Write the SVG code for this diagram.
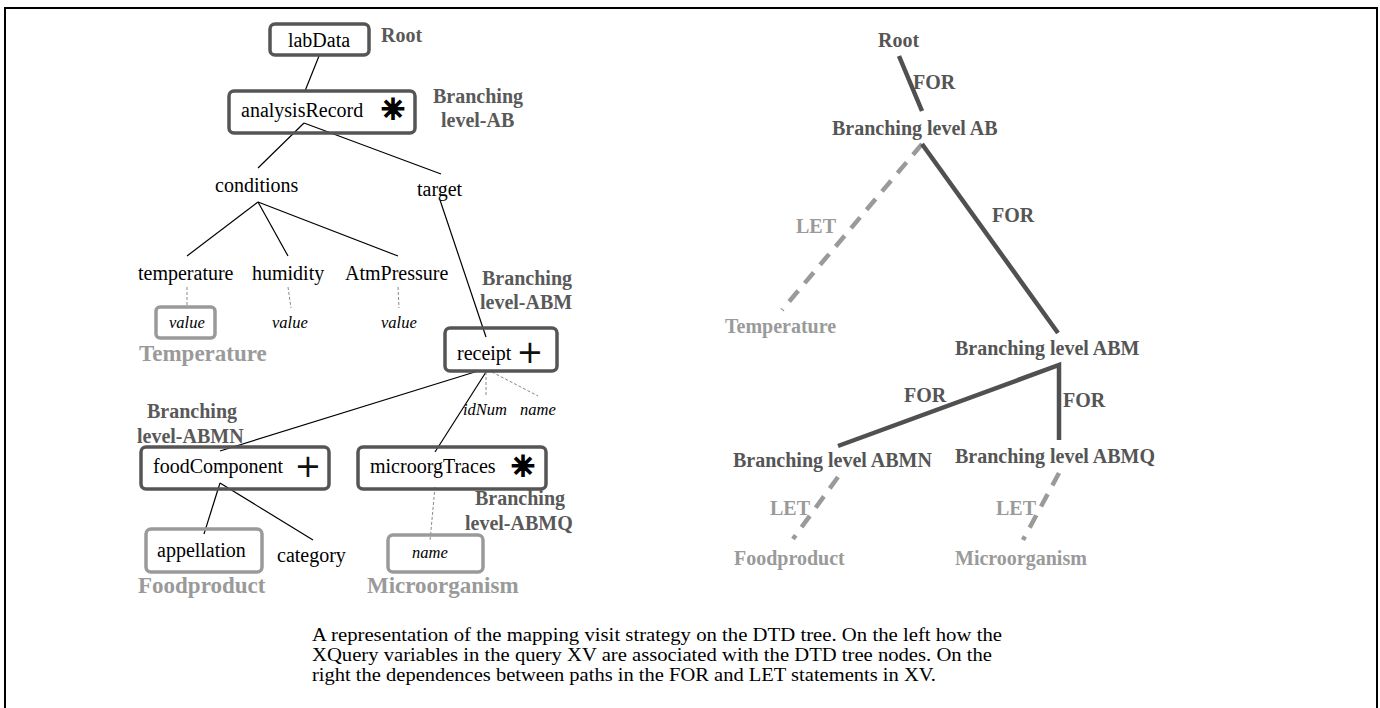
<svg xmlns="http://www.w3.org/2000/svg" width="1380" height="708" viewBox="0 0 1380 708">
<style>
.bg{fill:#fff}
.frame{fill:none;stroke:#000;stroke-width:2}
.box{fill:none;stroke:#555;stroke-width:3.5}
.gbox{fill:none;stroke:#9a9a9a;stroke-width:3.5}
.t{font-family:"Liberation Serif",serif;font-size:20px;fill:#000}
.it{font-family:"Liberation Serif",serif;font-size:16.5px;font-style:italic;fill:#000}
.lab{font-family:"Liberation Serif",serif;font-size:20px;font-weight:bold;fill:#595959}
.glab{font-family:"Liberation Serif",serif;font-size:23px;font-weight:bold;fill:#9a9a9a}
.rlab{font-family:"Liberation Serif",serif;font-size:20px;font-weight:bold;fill:#555}
.rglab{font-family:"Liberation Serif",serif;font-size:20px;font-weight:bold;fill:#9a9a9a}
.sym{font-family:"DejaVu Sans",sans-serif;fill:#111;text-anchor:middle}
.ast{font-family:"DejaVu Sans",sans-serif;fill:#000;stroke:#000;stroke-width:2.2;stroke-linecap:round;text-anchor:middle}
.edge{fill:none;stroke:#000;stroke-width:1.2}
.dedge{fill:none;stroke:#888;stroke-width:1;stroke-dasharray:3 2}
.fe{fill:none;stroke:#505050;stroke-width:4.5}
.le{fill:none;stroke:#9a9a9a;stroke-width:4.5;stroke-dasharray:14 10}
.cap{font-family:"Liberation Serif",serif;font-size:19px;fill:#000}
</style>
<rect class="bg" x="0" y="0" width="1380" height="708"/>
<path class="frame" d="M5,708 V8 H1377 V708"/>

<g id="connectors">
  <line class="edge" x1="319" y1="56" x2="305" y2="91"/>
  <line class="edge" x1="304" y1="123" x2="258" y2="168"/>
  <line class="edge" x1="304" y1="123" x2="441" y2="174"/>
  <line class="edge" x1="258" y1="202" x2="187" y2="256"/>
  <line class="edge" x1="258" y1="202" x2="288" y2="256"/>
  <line class="edge" x1="258" y1="202" x2="398" y2="256"/>
  <line class="edge" x1="440" y1="200" x2="486" y2="337"/>
  <line class="dedge" x1="187" y1="287" x2="187" y2="307"/>
  <line class="dedge" x1="288" y1="287" x2="291" y2="308"/>
  <line class="dedge" x1="398" y1="287" x2="399" y2="308"/>
  <line class="edge" x1="478" y1="371" x2="220" y2="451"/>
  <line class="edge" x1="486" y1="372" x2="435" y2="452"/>
  <line class="dedge" x1="486" y1="372" x2="486" y2="396"/>
  <line class="dedge" x1="492" y1="372" x2="538" y2="396"/>
  <line class="edge" x1="220" y1="483" x2="204" y2="534"/>
  <line class="edge" x1="220" y1="483" x2="313" y2="540"/>
  <line class="dedge" x1="435" y1="487" x2="430" y2="541"/>
  <line class="fe" x1="899" y1="56" x2="922" y2="111"/>
  <line class="le" x1="922" y1="144" x2="782" y2="310"/>
  <line class="fe" x1="922" y1="144" x2="1058" y2="333"/>
  <polyline class="fe" points="838,446 1059,365 1059,440"/>
  <line class="le" x1="838" y1="477" x2="793" y2="539"/>
  <line class="le" x1="1059" y1="473" x2="1023" y2="540"/>
</g>

<g id="edge-labels">
  <text class="rlab" x="913" y="89">FOR</text>
  <text class="rglab" x="796" y="233">LET</text>
  <text class="rlab" x="992" y="222">FOR</text>
  <text class="rlab" x="904" y="402">FOR</text>
  <text class="rlab" x="1063" y="407">FOR</text>
  <text class="rglab" x="770" y="515">LET</text>
  <text class="rglab" x="996" y="515">LET</text>
</g>

<g id="labData">
  <rect class="box" x="270" y="24" width="99" height="31" rx="5"/>
  <text class="t" x="319" y="47" text-anchor="middle">labData</text>
  <text class="lab" x="381" y="42">Root</text>
</g>
<g id="analysisRecord">
  <rect class="box" x="229" y="91" width="186" height="42" rx="5"/>
  <text class="t" x="241" y="117">analysisRecord</text>
  <text class="ast" x="393" y="119" font-size="28">✳</text>
  <text class="lab" x="433" y="103">Branching</text>
  <text class="lab" x="441" y="127">level-AB</text>
</g>
<g id="conditions"><text class="t" x="215" y="192">conditions</text></g>
<g id="target"><text class="t" x="417" y="196">target</text></g>
<g id="temperature">
  <text class="t" x="138" y="280">temperature</text>
  <rect class="gbox" x="156" y="307" width="59" height="31" rx="4"/>
  <text class="it" x="169" y="328">value</text>
  <text class="glab" x="139" y="361">Temperature</text>
</g>
<g id="humidity">
  <text class="t" x="252" y="280">humidity</text>
  <text class="it" x="272" y="328">value</text>
</g>
<g id="AtmPressure">
  <text class="t" x="345" y="280">AtmPressure</text>
  <text class="it" x="381" y="328">value</text>
</g>
<g id="receipt">
  <rect class="box" x="445" y="328" width="112" height="43" rx="5"/>
  <text class="t" x="457" y="360">receipt</text>
  <text class="sym" x="530" y="363" font-size="32">+</text>
  <text class="lab" x="482" y="285">Branching</text>
  <text class="lab" x="480" y="309">level-ABM</text>
  <text class="it" x="463" y="415">idNum</text>
  <text class="it" x="520" y="415">name</text>
</g>
<g id="foodComponent">
  <text class="lab" x="147" y="418">Branching</text>
  <text class="lab" x="137" y="443">level-ABMN</text>
  <rect class="box" x="141" y="447" width="188" height="42" rx="5"/>
  <text class="t" x="153" y="473">foodComponent</text>
  <text class="sym" x="308" y="477" font-size="32">+</text>
</g>
<g id="microorgTraces">
  <rect class="box" x="358" y="447" width="188" height="42" rx="5"/>
  <text class="t" x="370" y="473">microorgTraces</text>
  <text class="ast" x="523" y="476" font-size="28">✳</text>
  <text class="lab" x="475" y="505">Branching</text>
  <text class="lab" x="465" y="530">level-ABMQ</text>
</g>
<g id="appellation">
  <rect class="gbox" x="146" y="529" width="116" height="43" rx="5"/>
  <text class="t" x="157" y="557">appellation</text>
  <text class="glab" x="138" y="593">Foodproduct</text>
</g>
<g id="category"><text class="t" x="277" y="562">category</text></g>
<g id="name">
  <rect class="gbox" x="388" y="535" width="95" height="37" rx="5"/>
  <text class="it" x="412" y="558">name</text>
  <text class="glab" x="367" y="593">Microorganism</text>
</g>

<g id="r-root"><text class="rlab" x="878" y="47">Root</text></g>
<g id="r-AB"><text class="rlab" x="832" y="135">Branching level AB</text></g>
<g id="r-temperature"><text class="rglab" x="725" y="333">Temperature</text></g>
<g id="r-ABM"><text class="rlab" x="955" y="355">Branching level ABM</text></g>
<g id="r-ABMN"><text class="rlab" x="733" y="467">Branching level ABMN</text></g>
<g id="r-ABMQ"><text class="rlab" x="955" y="463">Branching level ABMQ</text></g>
<g id="r-foodproduct"><text class="rglab" x="734" y="565">Foodproduct</text></g>
<g id="r-microorganism"><text class="rglab" x="955" y="565">Microorganism</text></g>

<g id="caption">
  <text class="cap" x="312" y="641" textLength="690" lengthAdjust="spacingAndGlyphs">A representation of the mapping visit strategy on the DTD tree. On the left how the</text>
  <text class="cap" x="312" y="661" textLength="680" lengthAdjust="spacingAndGlyphs">XQuery variables in the query XV are associated with the DTD tree nodes.  On the</text>
  <text class="cap" x="312" y="681" textLength="624" lengthAdjust="spacingAndGlyphs">right the dependences between paths in the FOR and LET statements in XV.</text>
</g>
</svg>
